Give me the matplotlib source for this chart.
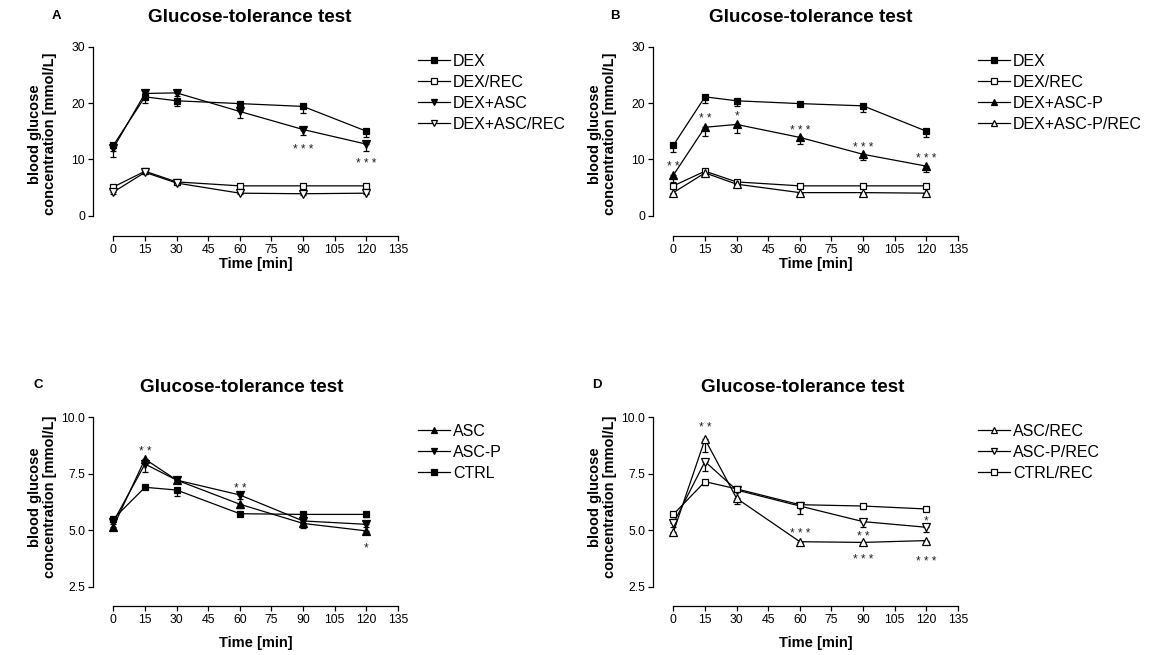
import matplotlib
matplotlib.use("Agg")
import matplotlib.pyplot as plt
import numpy as np

plt.rcParams['font.family'] = ['Liberation Sans', 'DejaVu Sans']

time = [0, 15, 30, 60, 90, 120]
xticks = [0, 15, 30, 45, 60, 75, 90, 105, 120, 135]

# ---------- Panel A ----------
a_labels = ['DEX', 'DEX/REC', 'DEX+ASC', 'DEX+ASC/REC']
a_dex = [12.5, 21.1, 20.4, 19.9, 19.4, 15.0]
a_dex_rec = [5.1, 7.9, 6.0, 5.3, 5.3, 5.3]
a_dex_asc = [12.0, 21.7, 21.8, 18.5, 15.3, 12.7]
a_dex_asc_rec = [4.2, 7.7, 5.8, 4.0, 3.9, 4.0]
a_err_dex = [1.0, 1.1, 1.0, 0.5, 1.1, 1.1]
a_err_dex_rec = [0.3, 0.3, 0.3, 0.2, 0.2, 0.2]
a_err_dex_asc = [1.5, 0.9, 0.6, 1.1, 1.0, 1.2]
a_err_dex_asc_rec = [0.3, 0.3, 0.3, 0.2, 0.2, 0.2]
a_stars = [('***', 90, 12.2), ('***', 120, 9.8)]

# ---------- Panel B ----------
b_labels = ['DEX', 'DEX/REC', 'DEX+ASC-P', 'DEX+ASC-P/REC']
b_dex = [12.5, 21.1, 20.4, 19.9, 19.5, 15.0]
b_dex_rec = [5.3, 7.9, 6.0, 5.3, 5.3, 5.3]
b_dex_ascp = [7.2, 15.7, 16.2, 13.9, 10.9, 8.8]
b_dex_ascp_rec = [4.1, 7.6, 5.6, 4.1, 4.1, 4.0]
b_err_dex = [1.2, 1.1, 0.9, 0.5, 1.1, 1.1]
b_err_dex_rec = [0.3, 0.3, 0.3, 0.2, 0.2, 0.2]
b_err_dex_ascp = [1.2, 1.6, 1.6, 1.2, 1.0, 1.0]
b_err_dex_ascp_rec = [0.3, 0.3, 0.3, 0.2, 0.2, 0.2]
b_stars = [('**', 0, 9.3), ('**', 15, 17.7), ('*', 30, 18.2),
           ('***', 60, 15.7), ('***', 90, 12.7), ('***', 120, 10.6)]

# ---------- Panel C ----------
c_labels = ['ASC', 'ASC-P', 'CTRL']
c_asc = [5.16, 8.15, 7.22, 6.15, 5.30, 4.97]
c_ascp = [5.38, 7.93, 7.22, 6.56, 5.41, 5.26]
c_ctrl = [5.50, 6.90, 6.78, 5.73, 5.70, 5.70]
c_err_asc = [0.1, 0.15, 0.1, 0.15, 0.22, 0.15]
c_err_ascp = [0.1, 0.37, 0.1, 0.19, 0.1, 0.12]
c_err_ctrl = [0.1, 0.08, 0.26, 0.1, 0.1, 0.1]
c_stars = [('**', 15, 8.63), ('**', 60, 6.96), ('*', 120, 4.35)]

# ---------- Panel D ----------
d_labels = ['ASC/REC', 'ASC-P/REC', 'CTRL/REC']
d_asc_rec = [4.91, 9.03, 6.41, 4.49, 4.46, 4.54]
d_ascp_rec = [5.30, 8.04, 6.78, 6.07, 5.38, 5.13]
d_ctrl_rec = [5.70, 7.15, 6.83, 6.13, 6.07, 5.94]
d_err_asc_rec = [0.1, 0.55, 0.25, 0.08, 0.06, 0.06]
d_err_ascp_rec = [0.17, 0.4, 0.1, 0.37, 0.25, 0.22]
d_err_ctrl_rec = [0.1, 0.15, 0.1, 0.1, 0.15, 0.1]
d_stars = [('**', 15, 9.66), ('***', 60, 4.98), ('**', 90, 4.86),
           ('***', 90, 3.83), ('*', 120, 5.53), ('***', 120, 3.75)]

W, H = 1152, 655
fig = plt.figure(figsize=(W / 100, H / 100), dpi=100)


def px_axes(left, top, right, bottom):
    return fig.add_axes([left / W, (H - bottom) / H, (right - left) / W, (bottom - top) / H])


def style_axes(ax, ylim, ybounds, yticks, yfmt):
    ax.set_xlim(-9.8, 135)
    ax.set_ylim(*ylim)
    for s in ['top', 'right']:
        ax.spines[s].set_visible(False)
    ax.spines['left'].set_bounds(*ybounds)
    ax.spines['bottom'].set_bounds(0, 135)
    for s in ['left', 'bottom']:
        ax.spines[s].set_linewidth(0.9)
    ax.set_xticks(xticks)
    ax.set_yticks(yticks)
    ax.set_yticklabels([yfmt.format(v) for v in yticks])
    ax.tick_params(axis='both', direction='out', length=3.5, width=0.9,
                   labelsize=8.8, pad=2)


def series(ax, y, err, marker, filled, label):
    lower = np.array(err)
    ax.errorbar(time, y, yerr=[lower, np.zeros_like(lower)], fmt='none',
                ecolor='black', elinewidth=0.9, capsize=2.3, capthick=0.9, zorder=2)
    ax.plot(time, y, color='black', lw=0.9, marker=marker, markersize=5 if marker == 's' else 5.5,
            markerfacecolor='black' if filled else 'white', markeredgecolor='black',
            markeredgewidth=0.9, label=label, zorder=3)


def stars(ax, lst):
    for s, t, yv in lst:
        ax.annotate(' '.join(s), (t, yv), xytext=(0, -2.5), textcoords='offset points',
                    ha='center', va='center', fontsize=8.5, color='#222222')


def labels(ax, xlab_y, ylab_y):
    ax.set_xlabel('Time [min]', fontsize=10.5, fontweight='bold')
    ax.xaxis.set_label_coords(0.534, xlab_y)
    ax.xaxis.label.set_va('center')
    ax.set_ylabel('blood glucose\nconcentration [mmol/L]', fontsize=10.5,
                  fontweight='bold', linespacing=1.05)
    ax.yaxis.set_label_coords(-0.165, ylab_y)
    ax.yaxis.label.set_va('center')


def legend(ax, x, ytop):
    ax.legend(loc='upper left', bbox_to_anchor=(x / W, (H - ytop) / H),
              bbox_transform=fig.transFigure, frameon=False, fontsize=11.5,
              handlelength=2.0, handletextpad=0.2, labelspacing=0.37,
              borderpad=0, borderaxespad=0, markerscale=0.8)


# Panel A
axA = px_axes(92.7, 46.7, 398, 236)
style_axes(axA, (-3.6, 30), (0, 30), [0, 10, 20, 30], '{:.0f}')
series(axA, a_dex, a_err_dex, 's', True, a_labels[0])
series(axA, a_dex_rec, a_err_dex_rec, 's', False, a_labels[1])
series(axA, a_dex_asc, a_err_dex_asc, 'v', True, a_labels[2])
series(axA, a_dex_asc_rec, a_err_dex_asc_rec, 'v', False, a_labels[3])
stars(axA, a_stars)
labels(axA, -0.148, 0.539)
legend(axA, 418, 54)

# Panel B
axB = px_axes(652.7, 46.7, 958, 236)
style_axes(axB, (-3.6, 30), (0, 30), [0, 10, 20, 30], '{:.0f}')
series(axB, b_dex, b_err_dex, 's', True, b_labels[0])
series(axB, b_dex_rec, b_err_dex_rec, 's', False, b_labels[1])
series(axB, b_dex_ascp, b_err_dex_ascp, '^', True, b_labels[2])
series(axB, b_dex_ascp_rec, b_err_dex_ascp_rec, '^', False, b_labels[3])
stars(axB, b_stars)
labels(axB, -0.148, 0.539)
legend(axB, 978, 54)

# Panel C
axC = px_axes(92.7, 417.3, 398, 606.3)
style_axes(axC, (1.63, 10), (2.5, 10), [2.5, 5.0, 7.5, 10.0], '{:.1f}')
series(axC, c_asc, c_err_asc, '^', True, c_labels[0])
series(axC, c_ascp, c_err_ascp, 'v', True, c_labels[1])
series(axC, c_ctrl, c_err_ctrl, 's', True, c_labels[2])
stars(axC, c_stars)
labels(axC, -0.195, 0.578)
legend(axC, 418, 424)

# Panel D
axD = px_axes(652.7, 417.3, 958, 606.3)
style_axes(axD, (1.63, 10), (2.5, 10), [2.5, 5.0, 7.5, 10.0], '{:.1f}')
series(axD, d_asc_rec, d_err_asc_rec, '^', False, d_labels[0])
series(axD, d_ascp_rec, d_err_ascp_rec, 'v', False, d_labels[1])
series(axD, d_ctrl_rec, d_err_ctrl_rec, 's', False, d_labels[2])
stars(axD, d_stars)
labels(axD, -0.195, 0.578)
legend(axD, 978, 424)

# Titles and panel letters
for (tx, ty) in [(250, 17), (811, 17), (242, 388), (803, 388)]:
    fig.text(tx / W, (H - ty) / H, 'Glucose-tolerance test', fontsize=13.6,
             fontweight='bold', ha='center', va='center')
for letter, (lx, ly) in zip('ABCD', [(56.5, 16), (614.5, 16), (38.6, 385), (597, 385)]):
    fig.text(lx / W, (H - ly) / H, letter, fontsize=9.5, fontweight='bold',
             ha='center', va='center')

fig.savefig('out.png', dpi=100)
